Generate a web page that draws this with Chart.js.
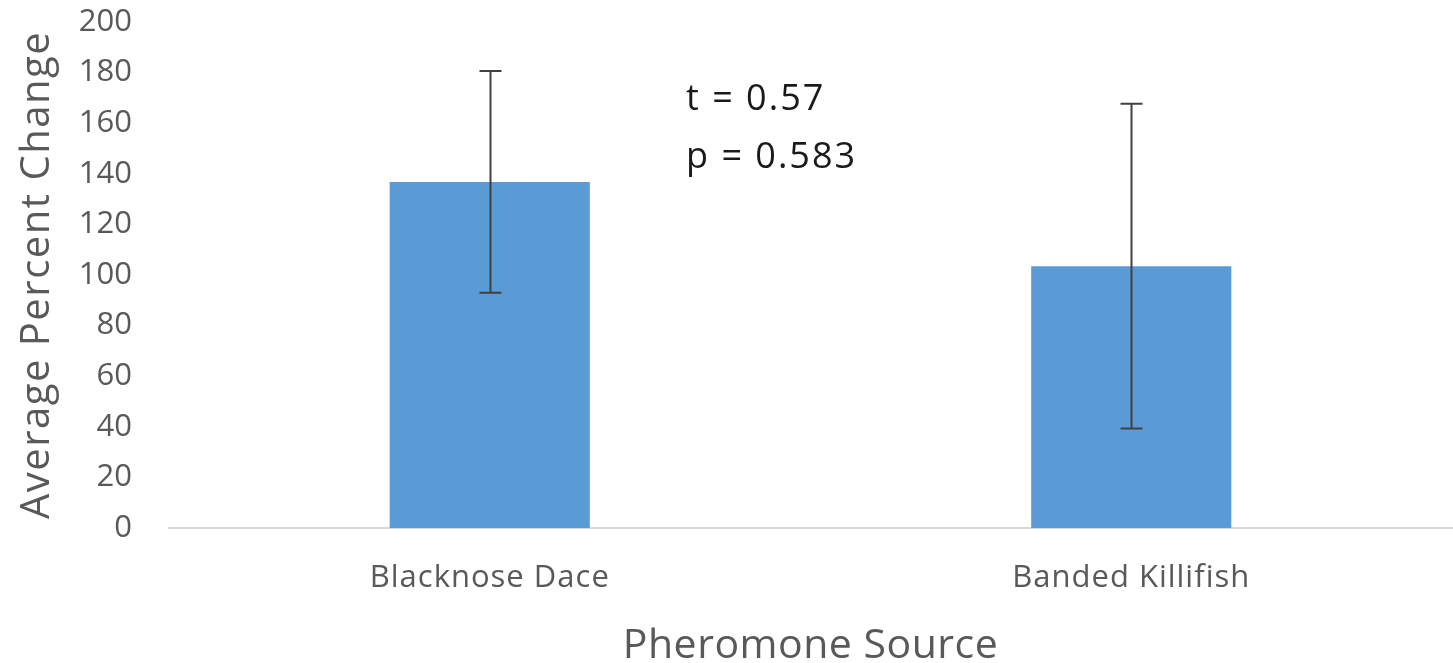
<!DOCTYPE html>
<html>
<head>
<meta charset="utf-8">
<script src="https://cdn.jsdelivr.net/npm/chart.js@4.4.0/dist/chart.umd.min.js"></script>
<style>
html,body{margin:0;padding:0;background:#fff;}
#wrap{width:1453px;height:663px;position:relative;}
</style>
</head>
<body>
<div id="wrap"><canvas id="c" width="1453" height="663"></canvas></div>
<script>
const categories = ["Blacknose Dace", "Banded Killifish"];
const meanValues = [136.8, 103.5];
const errorValues = [43.8, 64.2];
const yTicks = [0, 20, 40, 60, 80, 100, 120, 140, 160, 180, 200];
const statLines = ["t = 0.57", "p = 0.583"];

const FONT = "'Open Sans', Lato, sans-serif";

function withSpacing(scale, method, spacing) {
  if (!scale || scale['_wrapped_' + method]) return;
  const orig = scale[method];
  scale[method] = function (...args) {
    const ctx = this.ctx;
    const prev = ctx.letterSpacing;
    ctx.letterSpacing = spacing;
    const r = orig.apply(this, args);
    ctx.letterSpacing = prev || '0px';
    return r;
  };
  scale['_wrapped_' + method] = true;
}

const spacingPlugin = {
  id: 'spacing',
  afterLayout(chart) {
    withSpacing(chart.scales.y, 'drawTitle', '1.5px');
    withSpacing(chart.scales.x, 'drawLabels', '1px');
    withSpacing(chart.scales.x, 'drawTitle', '0.5px');
  }
};

const errorBarPlugin = {
  id: 'errorBars',
  afterDatasetsDraw(chart) {
    const ctx = chart.ctx;
    const meta = chart.getDatasetMeta(0);
    const ys = chart.scales.y;
    ctx.save();
    ctx.strokeStyle = '#404040';
    ctx.lineWidth = 2;
    meta.data.forEach((bar, i) => {
      const x = Math.round(bar.x) + 0.5;
      const top = ys.getPixelForValue(meanValues[i] + errorValues[i]);
      const bot = ys.getPixelForValue(meanValues[i] - errorValues[i]);
      ctx.beginPath();
      ctx.moveTo(x, top); ctx.lineTo(x, bot);
      ctx.moveTo(x - 11, top); ctx.lineTo(x + 11, top);
      ctx.moveTo(x - 11, bot); ctx.lineTo(x + 11, bot);
      ctx.stroke();
    });
    // statistics annotation
    ctx.fillStyle = '#1a1a1a';
    ctx.font = "36px " + FONT;
    ctx.letterSpacing = '2px';
    ctx.textAlign = 'left';
    ctx.textBaseline = 'alphabetic';
    ctx.fillText(statLines[0], 686, 110);
    ctx.fillText(statLines[1], 686, 168);
    ctx.letterSpacing = '0px';
    ctx.restore();
  }
};

new Chart(document.getElementById('c'), {
  type: 'bar',
  data: {
    labels: categories,
    datasets: [{
      data: meanValues,
      backgroundColor: '#5b9bd5',
      borderWidth: 0,
      categoryPercentage: 1.0,
      barPercentage: 0.312
    }]
  },
  options: {
    responsive: false,
    animation: false,
    devicePixelRatio: 1,
    layout: { padding: { top: 22, right: 1, left: 0, bottom: 0 } },
    plugins: { legend: { display: false }, tooltip: { enabled: false } },
    scales: {
      x: {
        grid: { display: false, drawTicks: false },
        border: { display: true, color: '#d9d9d9', width: 2 },
        ticks: { color: '#595959', font: { family: FONT, size: 31 }, padding: 32 },
        title: { display: true, text: 'Pheromone Source', color: '#595959', font: { family: FONT, size: 41, lineHeight: 0.8 }, padding: { top: 0, bottom: 0 } },
        afterFit(s) { s.height = 135; }
      },
      y: {
        min: 0, max: 200,
        afterBuildTicks(s) { s.ticks = yTicks.map(v => ({ value: v })); },
        grid: { display: false, drawTicks: false },
        border: { display: false },
        ticks: { color: '#595959', font: { family: FONT, size: 31 }, padding: 37 },
        title: { display: true, text: 'Average Percent Change', color: '#595959', font: { family: FONT, size: 40 }, padding: { top: 14, bottom: 0 } },
        afterFit(s) { s.width = 169; s.paddingTop = 0; }
      }
    }
  },
  plugins: [spacingPlugin, errorBarPlugin]
});
</script>
</body>
</html>
